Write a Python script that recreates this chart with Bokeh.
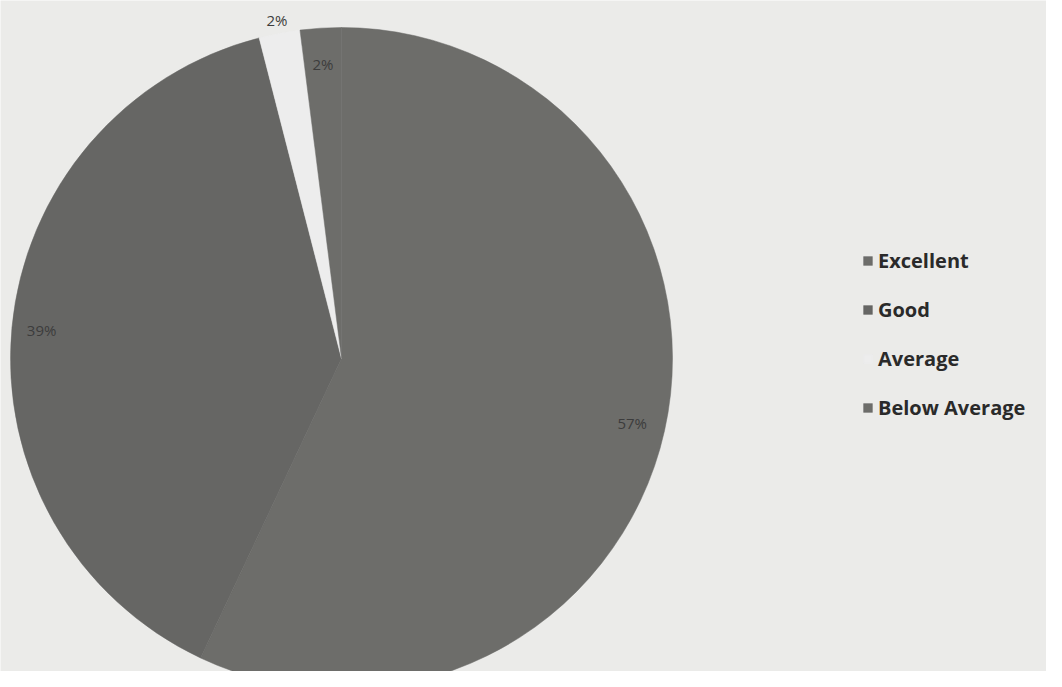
import math
from bokeh.plotting import figure
from bokeh.models import ColumnDataSource, Range1d, Legend, LegendItem
from bokeh.core.properties import value
from bokeh.embed import file_html
from bokeh.resources import INLINE

categories = ["Excellent", "Good", "Average", "Below Average"]
percents = [57, 39, 2, 2]
labels = ["57%", "39%", "2%", "2%"]

colors = ["#6d6d6a", "#666664", "#ededed", "#6d6d6a"]
label_r = [0.9, 0.91, 1.04, 0.89]

W, H = 1046, 671
cx, cy, R = 341, 313, 331

total = sum(percents)
starts, ends, lx, ly = [], [], [], []
cum = 0.0
for i, v in enumerate(percents):
    s = cum / total
    e = (cum + v) / total
    cum += v
    starts.append(math.pi / 2 - e * 2 * math.pi)
    ends.append(math.pi / 2 - s * 2 * math.pi)
    m = (s + e) / 2
    a = math.pi / 2 - m * 2 * math.pi
    lx.append(cx + label_r[i] * R * math.cos(a))
    ly.append(cy + label_r[i] * R * math.sin(a))

src = ColumnDataSource(dict(cat=categories, start=starts, end=ends, color=colors,
                            lx=lx, ly=ly, lab=labels))

p = figure(width=W, height=H, output_backend="svg", toolbar_location=None,
           x_range=Range1d(0, W), y_range=Range1d(0, H), min_border=0)
p.axis.visible = False
p.grid.visible = False
p.outline_line_color = None
p.background_fill_color = "#ebebe9"
p.border_fill_color = "#ebebe9"

r = p.wedge(x=cx, y=cy, radius=R, start_angle="start", end_angle="end",
            fill_color="color", line_color="color", line_width=0.5, source=src)

p.text(x="lx", y="ly", text="lab", source=src, text_align="center",
       text_baseline="middle", text_font=value("Open Sans"),
       text_font_size="15px", text_color="#3c3c3c")

items = [LegendItem(label=c, renderers=[r], index=i) for i, c in enumerate(categories)]
legend = Legend(items=items, location=(862, 250), spacing=22,
                glyph_width=11, glyph_height=11, label_standoff=5,
                label_text_font="Open Sans", label_text_font_style="bold",
                label_text_font_size="20px", label_text_color="#2a2a2a",
                background_fill_alpha=0, border_line_color=None, padding=0)
p.add_layout(legend)

open("out.html", "w").write(file_html(p, INLINE))
